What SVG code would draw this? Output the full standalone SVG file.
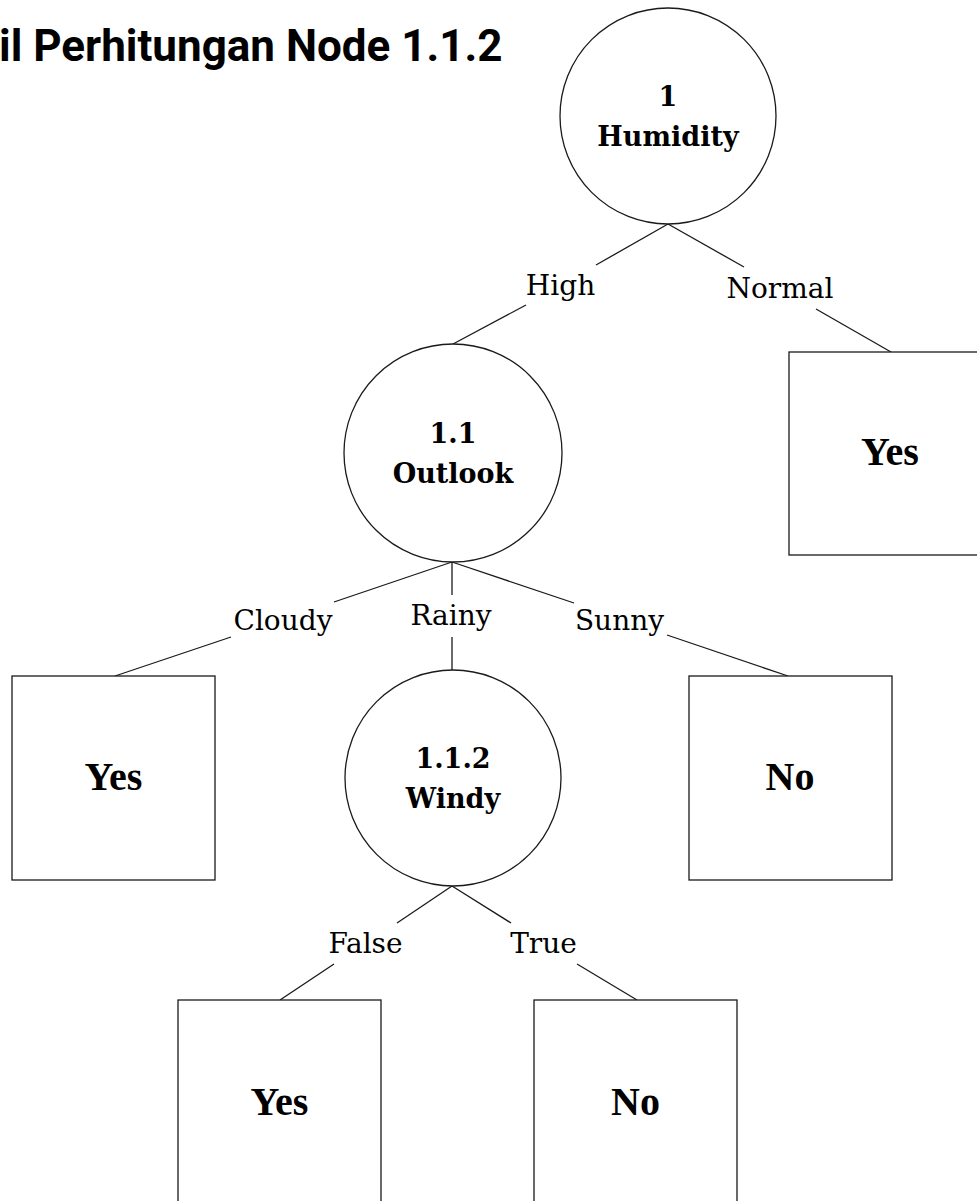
<svg xmlns="http://www.w3.org/2000/svg" width="977" height="1201" viewBox="0 0 977 1201">
<style>
.bg{fill:#ffffff}
.shape{fill:#ffffff;stroke:#1a1a1a;stroke-width:1.3}
.edge{stroke:#1a1a1a;stroke-width:1.3;fill:none}
.title{font-family:Roboto,"Liberation Sans",sans-serif;font-weight:700;font-size:44px;fill:#000}
.nlab{font-family:"DejaVu Serif","Liberation Serif",serif;font-weight:700;font-size:27px;fill:#000;text-anchor:middle}
.leaf{font-family:"Liberation Serif","DejaVu Serif",serif;font-weight:700;font-size:40px;fill:#000;text-anchor:middle}
.elab{font-family:"DejaVu Serif","Liberation Serif",serif;font-size:28px;fill:#000;text-anchor:middle}
</style>
<rect class="bg" x="0" y="0" width="977" height="1201"/>
<text class="title" x="-1" y="61">il Perhitungan Node 1.1.2</text>
<g id="connectors">
<line class="edge" x1="668" y1="224" x2="596" y2="265"/>
<line class="edge" x1="526" y1="305" x2="453" y2="344"/>
<line class="edge" x1="668" y1="224" x2="744" y2="267"/>
<line class="edge" x1="816" y1="309" x2="891" y2="352"/>
<line class="edge" x1="452" y1="562" x2="334" y2="602"/>
<line class="edge" x1="231" y1="637" x2="115" y2="676"/>
<line class="edge" x1="452" y1="562" x2="452" y2="595"/>
<line class="edge" x1="452" y1="637" x2="452" y2="670"/>
<line class="edge" x1="452" y1="562" x2="574" y2="603"/>
<line class="edge" x1="667" y1="635" x2="788" y2="676"/>
<line class="edge" x1="452" y1="886" x2="397" y2="923"/>
<line class="edge" x1="334" y1="964" x2="280" y2="1000"/>
<line class="edge" x1="452" y1="886" x2="511" y2="923"/>
<line class="edge" x1="577" y1="964" x2="637" y2="1000"/>
<text class="elab" x="560.5" y="295">High</text>
<text class="elab" x="780" y="298">Normal</text>
<text class="elab" x="283" y="630">Cloudy</text>
<text class="elab" x="451" y="625">Rainy</text>
<text class="elab" x="619.5" y="630">Sunny</text>
<text class="elab" x="365.5" y="953">False</text>
<text class="elab" x="543.5" y="953">True</text>
</g>
<g id="node-1">
<circle class="shape" cx="668" cy="116" r="108"/>
<text class="nlab" x="668" y="106">1</text>
<text class="nlab" x="668" y="146">Humidity</text>
</g>
<g id="node-1-1">
<circle class="shape" cx="453" cy="453" r="109"/>
<text class="nlab" x="453" y="443">1.1</text>
<text class="nlab" x="453" y="483">Outlook</text>
</g>
<g id="node-1-1-2">
<circle class="shape" cx="453" cy="778" r="108"/>
<text class="nlab" x="453" y="768">1.1.2</text>
<text class="nlab" x="453" y="808">Windy</text>
</g>
<g id="leaf-normal">
<rect class="shape" x="789" y="352" width="202" height="203"/>
<text class="leaf" x="890" y="465">Yes</text>
</g>
<g id="leaf-cloudy">
<rect class="shape" x="12" y="676" width="203" height="204"/>
<text class="leaf" x="113.5" y="790">Yes</text>
</g>
<g id="leaf-sunny">
<rect class="shape" x="689" y="676" width="203" height="204"/>
<text class="leaf" x="790" y="790">No</text>
</g>
<g id="leaf-false">
<rect class="shape" x="178" y="1000" width="203" height="204"/>
<text class="leaf" x="279.5" y="1115">Yes</text>
</g>
<g id="leaf-true">
<rect class="shape" x="534" y="1000" width="203" height="204"/>
<text class="leaf" x="635.5" y="1115">No</text>
</g>
</svg>
